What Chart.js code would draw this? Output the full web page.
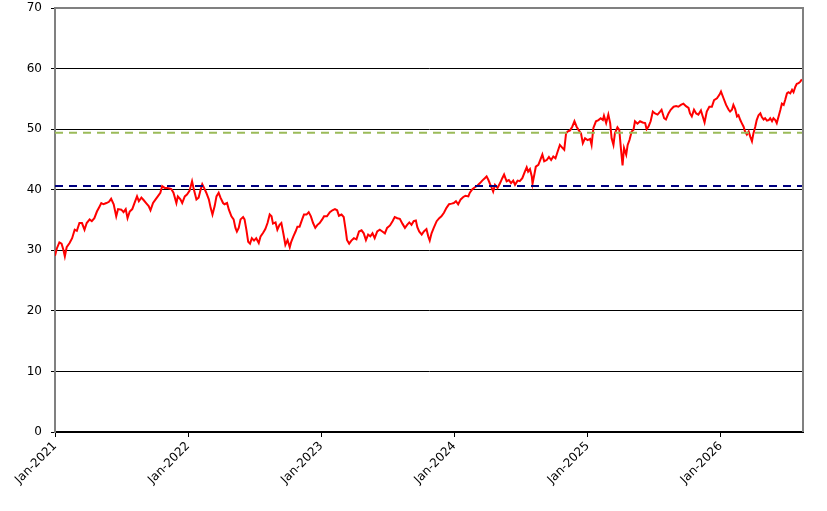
<!DOCTYPE html>
<html>
<head>
<meta charset="utf-8">
<script src="https://cdn.jsdelivr.net/npm/chart.js@4.4.1/dist/chart.umd.min.js"></script>
<style>
  body { margin: 0; background: #fff; }
  .chart-box { width: 827px; height: 511px; }
</style>
</head>
<body>
<div class="chart-box"><canvas id="price-chart"></canvas></div>
<script>
// days since 1 Jan 2021
const days = [
  0, 5, 12, 18, 23, 27, 32, 40, 47, 54, 60, 67, 74, 81, 87, 95, 101, 108, 115, 122,
  127, 133, 141, 148, 154, 161, 168, 173, 182, 188, 194, 199, 205, 212, 218, 225, 230, 237, 243, 250,
  257, 262, 269, 276, 282, 289, 294, 301, 307, 314, 319, 325, 333, 337, 344, 349, 356, 362, 369, 376,
  380, 388, 394, 400, 404, 409, 415, 422, 427, 432, 438, 443, 449, 454, 461, 465, 472, 477, 484, 490,
  495, 499, 504, 509, 516, 520, 525, 530, 535, 540, 546, 552, 559, 564, 571, 577, 583, 589, 594, 598,
  605, 610, 616, 621, 627, 632, 638, 644, 648, 654, 660, 665, 671, 678, 683, 690, 696, 702, 708, 714,
  720, 726, 733, 738, 746, 754, 761, 768, 774, 779, 786, 792, 798, 801, 807, 813, 820, 827, 834, 841,
  847, 853, 859, 865, 871, 877, 884, 891, 898, 905, 911, 919, 926, 932, 939, 946, 953, 960, 966, 972,
  978, 984, 990, 994, 999, 1006, 1012, 1019, 1024, 1028, 1033, 1039, 1047, 1054, 1060, 1067, 1074, 1081, 1088, 1094,
  1100, 1106, 1113, 1120, 1126, 1134, 1138, 1145, 1152, 1159, 1166, 1172, 1179, 1184, 1189, 1193, 1198, 1202, 1207, 1214,
  1221, 1227, 1232, 1239, 1245, 1251, 1257, 1262, 1269, 1275, 1282, 1289, 1294, 1298, 1303, 1308, 1310, 1315, 1319, 1326,
  1330, 1337, 1342, 1349, 1355, 1361, 1367, 1373, 1379, 1385, 1392, 1397, 1402, 1406, 1413, 1419, 1425, 1431, 1437, 1443,
  1448, 1454, 1461, 1468, 1472, 1477, 1484, 1491, 1497, 1503, 1506, 1512, 1518, 1523, 1527, 1532, 1536, 1543, 1548, 1552,
  1557, 1561, 1567, 1571, 1576, 1582, 1587, 1591, 1598, 1605, 1612, 1619, 1623, 1628, 1634, 1640, 1646, 1653, 1660, 1664,
  1671, 1676, 1683, 1689, 1697, 1704, 1710, 1717, 1724, 1731, 1738, 1742, 1747, 1753, 1759, 1765, 1772, 1777, 1782, 1788,
  1795, 1802, 1808, 1816, 1823, 1827, 1834, 1841, 1848, 1852, 1857, 1861, 1866, 1871, 1875, 1880, 1884, 1889, 1893, 1898,
  1903, 1907, 1912, 1916, 1921, 1925, 1930, 1935, 1939, 1944, 1948, 1953, 1958, 1962, 1967, 1971, 1976, 1980, 1985, 1990,
  1994, 1999, 2003, 2008, 2012, 2017, 2022, 2026, 2031, 2035, 2040, 2044, 2049
];
const prices = [
  29.1, 30.3, 31.3, 31.1, 30.1, 29.0, 30.5, 31.2, 32.0, 33.4, 33.2, 34.5, 34.5, 33.4, 34.5, 35.1, 34.8, 35.3, 36.4, 37.2,
  37.8, 37.6, 37.8, 38.0, 38.5, 37.6, 35.6, 36.8, 36.7, 36.3, 36.8, 35.3, 36.4, 36.8, 37.8, 38.9, 38.1, 38.7, 38.3, 37.8,
  37.3, 36.6, 37.8, 38.4, 38.9, 39.5, 40.6, 40.3, 40.3, 40.2, 40.1, 39.5, 37.8, 38.9, 38.4, 37.8, 38.9, 39.2, 39.8, 41.4,
  40.3, 38.4, 38.7, 40.1, 40.9, 40.3, 39.5, 38.4, 37.0, 35.9, 37.3, 38.9, 39.5, 38.7, 37.8, 37.6, 37.8, 36.7, 35.6, 35.1,
  33.7, 33.1, 33.7, 35.1, 35.5, 35.1, 33.4, 31.4, 31.1, 32.0, 31.6, 32.0, 31.2, 32.3, 32.9, 33.5, 34.5, 35.9, 35.6, 34.4,
  34.6, 33.4, 34.2, 34.5, 32.6, 30.9, 31.7, 30.5, 31.4, 32.3, 33.1, 33.9, 33.9, 35.1, 35.9, 35.9, 36.3, 35.6, 34.5, 33.7,
  34.2, 34.5, 35.1, 35.6, 35.6, 36.3, 36.6, 36.8, 36.6, 35.7, 35.9, 35.5, 33.1, 31.7, 31.1, 31.6, 32.0, 31.8, 33.1, 33.3,
  32.8, 31.7, 32.6, 32.3, 32.8, 32.0, 33.1, 33.4, 33.1, 32.8, 33.7, 34.1, 34.8, 35.5, 35.3, 35.2, 34.4, 33.7, 34.2, 34.6,
  34.2, 34.8, 34.9, 33.8, 33.1, 32.6, 33.1, 33.5, 32.3, 31.6, 32.8, 33.7, 34.8, 35.3, 35.6, 36.2, 37.0, 37.6, 37.7, 37.8,
  38.1, 37.6, 38.4, 38.8, 39.0, 38.9, 39.5, 40.1, 40.4, 40.7, 41.1, 41.5, 41.9, 42.2, 41.6, 41.0, 40.3, 39.7, 40.8, 40.3,
  41.1, 41.9, 42.5, 41.4, 41.6, 41.1, 41.5, 40.8, 41.5, 41.4, 41.9, 43.0, 43.7, 43.0, 43.4, 42.2, 41.0, 42.5, 43.8, 44.1,
  44.7, 45.8, 44.7, 44.9, 45.4, 44.9, 45.5, 45.2, 46.3, 47.4, 46.9, 46.6, 49.3, 49.6, 49.8, 50.4, 51.3, 50.4, 49.8, 49.3,
  47.7, 48.5, 48.2, 48.4, 47.4, 50.2, 51.3, 51.5, 51.8, 51.5, 52.2, 51.0, 52.4, 51.0, 48.5, 47.4, 49.3, 50.3, 49.9, 47.1,
  44.0, 46.9, 45.8, 47.4, 48.2, 49.6, 49.9, 51.3, 50.9, 51.3, 51.1, 51.0, 50.0, 50.4, 51.3, 52.9, 52.6, 52.4, 52.9, 53.2,
  51.8, 51.6, 52.6, 53.2, 53.7, 53.8, 53.7, 54.0, 54.2, 53.8, 53.5, 52.6, 52.1, 53.2, 52.6, 52.4, 53.1, 52.1, 51.1, 52.9,
  53.7, 53.7, 54.8, 55.1, 55.7, 56.2, 55.1, 54.0, 53.2, 52.9, 53.2, 54.0, 53.3, 52.1, 52.3, 51.5, 51.0, 50.4, 49.6, 49.1,
  49.6, 48.8, 48.0, 49.3, 50.4, 51.5, 52.3, 52.6, 52.0, 51.6, 51.8, 51.4, 51.5, 51.8, 51.3, 51.8, 51.5, 51.0, 52.1, 53.2,
  54.2, 54.0, 54.8, 55.9, 56.1, 55.9, 56.5, 56.1, 57.0, 57.5, 57.6, 57.8, 58.2
];

const tickDays = [0, 365, 730, 1095, 1461, 1826];
const tickLabels = ["Jan-2021", "Jan-2022", "Jan-2023", "Jan-2024", "Jan-2025", "Jan-2026"];
const lastDay = 2052;

const lowerLevel = 40.6;
const upperLevel = 49.4;

const fontSpec = { family: "'DejaVu Sans', sans-serif", size: 12 };

// grey frame on top and right of the plot area
const frameBorder = {
  id: "frameBorder",
  afterDraw(chart) {
    const { ctx, chartArea } = chart;
    ctx.save();
    ctx.strokeStyle = "#808080";
    ctx.lineWidth = 2;
    ctx.beginPath();
    ctx.moveTo(chartArea.left, chartArea.top);
    ctx.lineTo(chartArea.right, chartArea.top);
    ctx.lineTo(chartArea.right, chartArea.bottom);
    ctx.stroke();
    ctx.restore();
  },
};

const points = days.map((d, i) => ({ x: d, y: prices[i] }));

new Chart(document.getElementById("price-chart"), {
  type: "line",
  data: {
    datasets: [
      {
        data: [{ x: 0, y: upperLevel }, { x: lastDay, y: upperLevel }],
        borderColor: "#9BBB59",
        borderWidth: 2,
        borderDash: [8, 6],
        pointRadius: 0,
      },
      {
        data: [{ x: 0, y: lowerLevel }, { x: lastDay, y: lowerLevel }],
        borderColor: "#000080",
        borderWidth: 2,
        borderDash: [8, 6],
        pointRadius: 0,
      },
      {
        data: points,
        borderColor: "#FF0000",
        borderWidth: 2,
        pointRadius: 0,
        tension: 0,
      },
    ],
  },
  options: {
    responsive: true,
    maintainAspectRatio: false,
    animation: false,
    layout: { padding: { top: 8, right: 24, left: 0, bottom: 0 } },
    plugins: { legend: { display: false }, tooltip: { enabled: false } },
    scales: {
      x: {
        type: "linear",
        min: 0,
        max: lastDay,
        afterBuildTicks: (scale) => {
          scale.ticks = tickDays.map((v) => ({ value: v }));
        },
        afterFit: (scale) => {
          scale.height = 79;
          scale.paddingLeft = 0;
          scale.paddingRight = 0;
        },
        ticks: {
          autoSkip: false,
          maxRotation: 45,
          minRotation: 45,
          padding: 2,
          color: "#000",
          font: fontSpec,
          callback: (value) => tickLabels[tickDays.indexOf(value)],
        },
        grid: {
          drawOnChartArea: false,
          color: "#000",
          tickLength: 5,
        },
        border: { color: "#000", width: 2 },
      },
      y: {
        min: 0,
        max: 70,
        afterFit: (scale) => {
          scale.width = 55;
          scale.paddingTop = 0;
          scale.paddingBottom = 0;
        },
        ticks: {
          stepSize: 10,
          padding: 9,
          color: "#000",
          font: fontSpec,
        },
        grid: {
          color: (c) => (c.tick && c.tick.value === 70 ? "rgba(0,0,0,0)" : "#000"),
          tickColor: "#000",
          tickLength: 4,
        },
        border: { color: "#808080", width: 2 },
      },
    },
  },
  plugins: [frameBorder],
});
</script>
</body>
</html>
